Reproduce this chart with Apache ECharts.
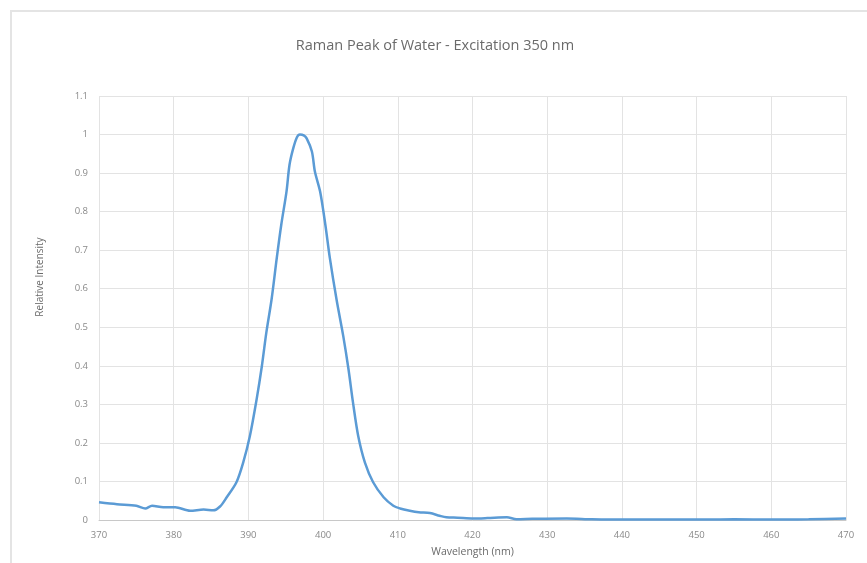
<!DOCTYPE html>
<html>
<head>
<meta charset="utf-8">
<title>Raman Peak of Water</title>
<script src="https://cdn.jsdelivr.net/npm/echarts@6/dist/echarts.min.js"></script>
<style>
  html, body { margin: 0; padding: 0; background: #fff; }
  #chart { width: 867px; height: 563px; }
</style>
</head>
<body>
<div id="chart"></div>
<script>
// wavelength (nm)
var wavelengths = [
  370, 372.4, 375, 376.2, 377.1, 378.6, 380.2, 382.2, 384, 385.3, 386.2,
  387.1, 388.4, 389.3, 390.2, 391.1, 391.8, 392.4, 393.1, 393.8, 394.4,
  395.1, 395.5, 396.0, 396.5, 396.9, 397.4, 397.8, 398.5, 398.9, 399.6,
  400.3, 400.9, 401.8, 402.7, 403.4, 404.0, 404.7, 405.6, 406.7, 408.1,
  409.4, 410.3, 411.6, 412.8, 414.3, 415.6, 416.5, 418, 420.1, 422,
  424.6, 425.9, 428, 432.6, 436, 440.2, 445, 451.3, 455, 460.2, 465, 470
]
// relative intensity
var intensity = [
  0.046, 0.041, 0.037, 0.030, 0.037, 0.033, 0.033, 0.024, 0.027, 0.025, 0.035,
  0.059, 0.098, 0.149, 0.218, 0.313, 0.399, 0.486, 0.572, 0.680, 0.766,
  0.852, 0.921, 0.964, 0.993, 1.000, 0.998, 0.990, 0.956, 0.904, 0.852,
  0.766, 0.680, 0.572, 0.477, 0.391, 0.305, 0.218, 0.149, 0.098, 0.059,
  0.037, 0.030, 0.024, 0.020, 0.018, 0.011, 0.007, 0.006, 0.004, 0.005,
  0.007, 0.002, 0.003, 0.004, 0.002, 0.001, 0.001, 0.001, 0.002, 0.001, 0.002, 0.004
]

var points = wavelengths.map(function (w, i) { return [w, intensity[i]] })

var chart = echarts.init(document.getElementById('chart'))
var font = '"Open Sans", "Liberation Sans", sans-serif'

chart.setOption({
  animation: false,
  title: {
    text: 'Raman Peak of Water - Excitation 350 nm',
    left: 430,
    top: 33,
    textAlign: 'center',
    textStyle: { fontFamily: font, fontSize: 14.5, fontWeight: 'normal', color: '#6a6a6a' }
  },
  graphic: [{
    type: 'rect',
    shape: { x: 11, y: 11, width: 900, height: 600 },
    style: { fill: 'none', stroke: '#e4e4e4', lineWidth: 2 },
    silent: true
  }],
  grid: { left: 99, right: 21, top: 96, bottom: 42 },
  xAxis: {
    type: 'value',
    min: 370,
    max: 470,
    interval: 10,
    name: 'Wavelength (nm)',
    nameLocation: 'middle',
    nameGap: 27,
    nameTextStyle: { fontFamily: font, fontSize: 10.5, color: '#6a6a6a' },
    axisLine: { lineStyle: { color: '#c8c8c8' } },
    axisTick: { show: false },
    axisLabel: { fontFamily: font, fontSize: 9.5, color: '#8a8a8a', margin: 10 },
    splitLine: { show: true, lineStyle: { color: '#e3e3e3' } }
  },
  yAxis: {
    type: 'value',
    min: 0,
    max: 1.1,
    interval: 0.1,
    name: 'Relative Intensity',
    nameLocation: 'middle',
    nameGap: 54,
    nameTextStyle: { fontFamily: font, fontSize: 10, color: '#6a6a6a', padding: [0, 0, 0, 62] },
    axisLine: { show: false },
    axisTick: { show: false },
    axisLabel: { fontFamily: font, fontSize: 9.5, color: '#8a8a8a', margin: 11 },
    splitLine: { show: true, lineStyle: { color: '#e3e3e3' } }
  },
  series: [{
    type: 'line',
    data: points,
    showSymbol: false,
    smooth: 0.3,
    lineStyle: { color: '#5b9bd5', width: 2.5 }
  }]
})
</script>
</body>
</html>
